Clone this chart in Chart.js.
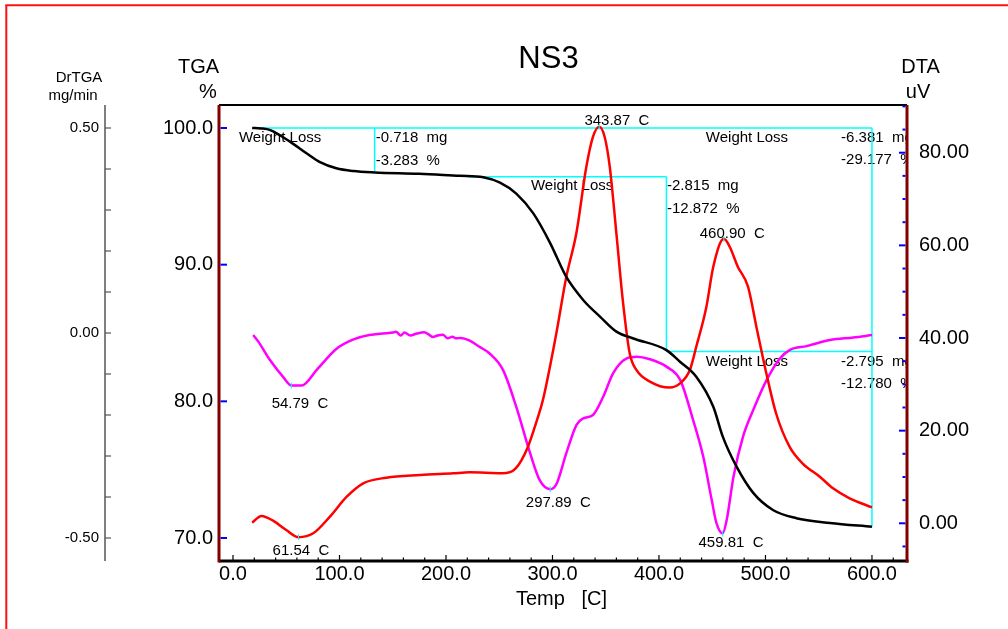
<!DOCTYPE html>
<html><head><meta charset="utf-8">
<script src="https://cdn.jsdelivr.net/npm/chart.js@4"></script>
<style>html,body{margin:0;padding:0;background:#fff;overflow:hidden}canvas{display:block}</style>
</head><body>
<canvas id="c" width="1008" height="629"></canvas>
<script>
// ---- data ----
const tgaTemp = [18,26,35,53.5,69,81.7,97,113,133,175,213,235,250.7,266,282,297.7,313,329,344.6,360,376,407,419.7,435,451,460,473,488.5,507,529,560.6,600];
const tgaPct  = [100,99.97,99.85,99.0,98.15,97.5,97.05,96.85,96.75,96.65,96.5,96.4,96.0,95.2,93.75,91.6,89.1,87.4,86.2,85.1,84.6,83.75,82.9,81.8,79.6,77.4,75.2,73.3,72.05,71.45,71.1,70.82];

const dtaTemp = [18,26.7,37.6,50,61.5,75.4,91,106.8,122.3,144,175.6,207,222,253,265.5,276.4,286,291,303.6,313,322.4,331.8,338,343.9,349,353.8,360,366,372.5,378.8,391.5,410,419.7,429,435,444.5,451,460.9,466.4,474,483.6,491.5,500.8,510,522.7,535,551,563.4,579,600];
const dtaUV   = [0.13,1.58,0.56,-1.45,-3.0,-2.16,1.43,5.74,8.63,9.84,10.42,10.79,11.0,10.79,11.87,16.2,22.7,26.6,41.0,53.2,62.6,76.95,83.4,85.6,83.4,76.95,62.6,48.2,36.7,33.1,30.6,29.3,30.2,33.1,38.1,46.7,55.4,61.4,59.7,55.4,51.1,42.4,32.4,23.7,16.5,12.9,10.06,7.55,5.4,3.45];

const drTemp = [19,23.8,34.7,47,54.8,64.5,78.6,97,112,128,140.5,150.5,153,157.5,161,166.5,172,179.5,184,187.8,192,197,201.6,206,209.4,214,221.8,231,241,253.5,266,279,288,297.9,304,313,322.6,329,338,347.7,357,369.7,379,391.5,407,420,432,441.6,449.5,454,459.8,463.6,470,479,488.5,501,513.6,523,538.7,560.6,582.5,600];
const drRate = [-0.005,-0.021,-0.066,-0.107,-0.128,-0.128,-0.090,-0.039,-0.017,-0.005,-0.001,0.001,0.003,-0.006,0.001,-0.006,-0.002,0.002,-0.004,-0.010,-0.006,-0.004,-0.013,-0.009,-0.013,-0.012,-0.018,-0.033,-0.050,-0.090,-0.180,-0.293,-0.359,-0.381,-0.367,-0.293,-0.224,-0.208,-0.200,-0.155,-0.098,-0.062,-0.058,-0.064,-0.082,-0.115,-0.212,-0.302,-0.407,-0.464,-0.489,-0.456,-0.350,-0.252,-0.188,-0.115,-0.062,-0.041,-0.032,-0.017,-0.011,-0.005];

// weight-loss step lines (temperature, TGA %)
const stepLineT = [[18,600],[133,133],[219.7,407],[407,407],[407,600],[600,600]];
const stepLineP = [[100,100],[100,96.75],[96.44,96.44],[96.44,83.64],[83.64,83.64],[100,70.82]];

// peak markers
const peakT    = [54.79, 61.54, 297.89, 343.87, 460.90, 459.81];
const peakV    = [-0.128, -3.0, -0.381, 85.6, 61.4, -0.489];
const peakAxis = ['yD','yR','yD','yR','yR','yD'];

// annotation texts (temperature, TGA % position)
const noteText = ['Weight Loss','-0.718  mg','-3.283  %','343.87  C','Weight Loss','-6.381  mg','-29.177  %','Weight Loss','-2.815  mg','-12.872  %','460.90  C','Weight Loss','-2.795  mg','-12.780  %','54.79  C','61.54  C','297.89  C','459.81  C'];
const noteT    = [5.6,134,134,360.5,444,571,571,279.8,407.5,407.5,468.8,444,571,571,62.9,63.8,305.5,467.6];
const noteP    = [99.27,99.25,97.61,100.53,99.29,99.29,97.66,95.76,95.76,94.05,92.22,82.90,82.90,81.27,79.81,69.05,72.58,69.61];
const noteAlign= ['left','left','left','center','left','left','left','left','left','left','center','left','left','left','center','center','center','center'];

// ticks
const xTicks   = [0,100,200,300,400,500,600];
const tgaTicks = [100,90,80,70];
const dtaTicks = [80,60,40,20,0];
const drTicks  = [0.5,0,-0.5];

const F = '"Liberation Sans", Arial, sans-serif';
const pts = (xs, ys) => xs.map((v,i)=>({x:v, y:ys[i]}));

const datasets = [
  {label:'TGA', data:pts(tgaTemp,tgaPct), yAxisID:'yT', borderColor:'#000000', borderWidth:2.5, order:1},
  {label:'DTA', data:pts(dtaTemp,dtaUV), yAxisID:'yR', borderColor:'#ff0000', borderWidth:2.5, order:2},
  {label:'DrTGA', data:pts(drTemp,drRate), yAxisID:'yD', borderColor:'#ff00ff', borderWidth:2.5, order:3},
];
stepLineT.forEach((seg,i)=>datasets.push({label:'step'+i, data:pts(seg, stepLineP[i]), yAxisID:'yT', borderColor:'#00ffff', borderWidth:1.5, order:10, cubicInterpolationMode:'default', tension:0}));
datasets.forEach(d=>{d.xAxisID='x'; d.pointRadius=0; d.fill=false; if(d.order<10) d.cubicInterpolationMode='monotone';});

const deco = {
  id:'deco',
  beforeDatasetsDraw(chart){
    const {ctx, chartArea:a, scales} = chart;
    const x = scales.x, yT = scales.yT;
    ctx.save();
    ctx.beginPath(); ctx.rect(a.left, a.top, a.right-a.left, a.bottom-a.top); ctx.clip();
    ctx.fillStyle = '#000'; ctx.font = '15px '+F; ctx.textBaseline = 'middle';
    noteText.forEach((t,i)=>{
      ctx.textAlign = noteAlign[i];
      ctx.fillText(t, x.getPixelForValue(noteT[i]), yT.getPixelForValue(noteP[i]));
    });
    ctx.restore();
  },
  afterDatasetsDraw(chart){
    const {ctx, scales} = chart;
    ctx.save();
    ctx.strokeStyle = '#00ffff'; ctx.lineWidth = 1;
    peakT.forEach((t,i)=>{
      const px = scales.x.getPixelForValue(t), py = scales[peakAxis[i]].getPixelForValue(peakV[i]);
      ctx.beginPath(); ctx.moveTo(px, py-3); ctx.lineTo(px, py+3); ctx.stroke();
    });
    ctx.restore();
  },
  afterDraw(chart){
    const {ctx, chartArea:a, scales} = chart;
    const x = scales.x, yT = scales.yT, yR = scales.yR, yD = scales.yD;
    ctx.save();
    const line = (x1,y1,x2,y2,c,w)=>{ctx.strokeStyle=c; ctx.lineWidth=w; ctx.beginPath(); ctx.moveTo(x1,y1); ctx.lineTo(x2,y2); ctx.stroke();};
    // page frame
    line(6.3, 5.3, 6.3, 629, '#ff1010', 2);
    line(5.3, 5.3, 1008, 5.3, '#ff1010', 2);
    // top & bottom
    line(a.left, a.top, a.right, a.top, '#000', 2);
    // x ticks
    for (let t = 0; t <= x.max; t += 20) {
      const px = x.getPixelForValue(t);
      line(px, a.bottom, px, a.bottom - (t % 100 === 0 ? 6 : 3.5), '#000', 1.2);
    }
    line(a.left, a.bottom, a.right+1.5, a.bottom, '#000', 3);
    ctx.fillStyle = '#000'; ctx.font = '20px '+F; ctx.textAlign='center'; ctx.textBaseline='middle';
    xTicks.forEach(t=>ctx.fillText(t.toFixed(1), x.getPixelForValue(t), a.bottom+13));
    ctx.fillText('Temp   [C]', 561.5, 599);
    // left TGA axis
    line(a.left, a.top, a.left, a.bottom+1.5, '#800000', 3);
    ctx.textAlign='right';
    tgaTicks.forEach(v=>{
      const py = yT.getPixelForValue(v);
      line(a.left+1.5, py, a.left+8, py, '#0000ff', 2);
      ctx.fillText(v.toFixed(1), a.left-6, py);
    });
    // right DTA axis
    for (let v = -5; v <= yR.max; v += 5) {
      const py = yR.getPixelForValue(v);
      line(a.right-1.5, py, a.right - (v % 20 === 0 ? 8 : 4.5), py, '#0000ff', 2);
    }
    line(a.right, a.top, a.right, a.bottom+1.5, '#800000', 3);
    ctx.textAlign='left';
    dtaTicks.forEach(v=>ctx.fillText(v.toFixed(2), a.right+12, yR.getPixelForValue(v)));
    // DrTGA axis
    const dx = 105;
    line(dx, a.top, dx, a.bottom, '#555', 1.5);
    for (let k = -5; k <= 5; k++) {
      const py = yD.getPixelForValue(k/10);
      line(dx, py, dx+6, py, '#555', 1.2);
    }
    ctx.font = '15px '+F; ctx.textAlign='right';
    drTicks.forEach(v=>ctx.fillText(v.toFixed(2), dx-6, yD.getPixelForValue(v)));
    // axis titles
    ctx.textAlign='center';
    ctx.fillText('DrTGA', 79, 78);
    ctx.fillText('mg/min', 73, 96);
    ctx.font = '20px '+F;
    ctx.fillText('TGA', 198.5, 67);
    ctx.fillText('%', 208, 92);
    ctx.fillText('DTA', 920.5, 67);
    ctx.fillText('uV', 918, 92.5);
    ctx.font = '31px '+F;
    ctx.fillText('NS3', 548.5, 59);
    ctx.restore();
  }
};

new Chart(document.getElementById('c'), {
  type:'line',
  data:{datasets},
  options:{
    responsive:false, animation:false, devicePixelRatio:1, events:[],
    layout:{padding:{left:219, top:105, right:101, bottom:68}},
    plugins:{legend:{display:false}, tooltip:{enabled:false}, title:{display:false}},
    scales:{
      x:{type:'linear', display:false, min:-13.15, max:632.9},
      yT:{type:'linear', position:'left', display:false, min:68.317, max:101.683},
      yD:{type:'linear', position:'left', display:false, min:-0.5561, max:0.5561},
      yR:{type:'linear', position:'right', display:false, min:-8.14, max:90.30}
    }
  },
  plugins:[deco]
});
</script>
</body></html>
